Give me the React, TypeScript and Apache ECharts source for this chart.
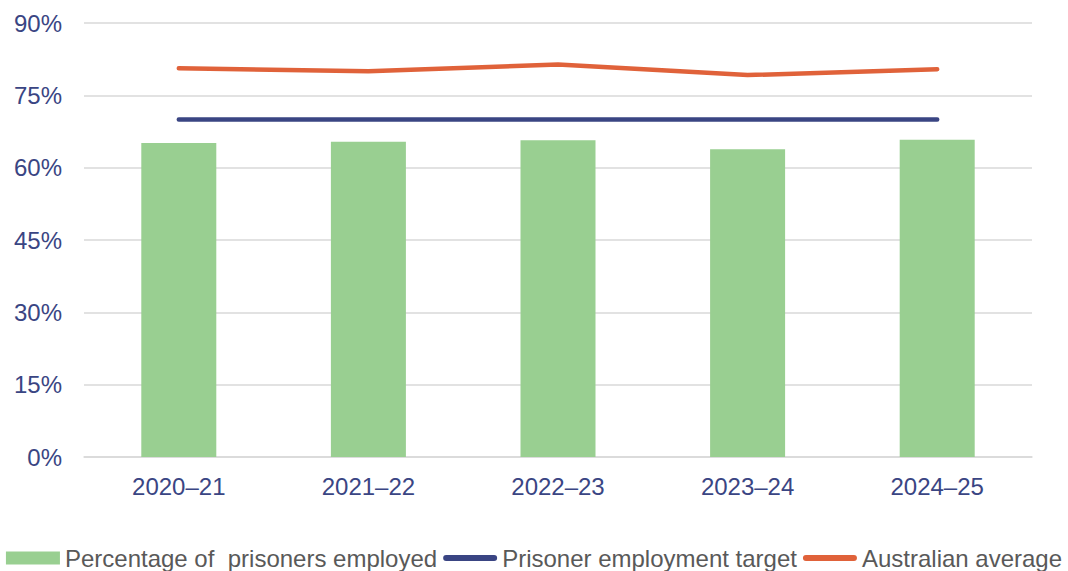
import React, { useEffect, useRef } from "react";
import * as echarts from "echarts";

const categories = ["2020–21", "2021–22", "2022–23", "2023–24", "2024–25"];
const employed = [65.1, 65.4, 65.7, 63.8, 65.8];
const target = [70, 70, 70, 70, 70];
const australianAverage = [80.6, 80.0, 81.4, 79.2, 80.4];

const lineIcon = "path://M3,0 L51,0 A3,3 0 0 1 51,6 L3,6 A3,3 0 0 1 3,0 Z";

export default function App() {
  const ref = useRef<HTMLDivElement>(null);
  useEffect(() => {
    if (!ref.current) return;
    const chart = echarts.init(ref.current, null, { renderer: "svg" });
    const font = "'Liberation Sans', Arial, sans-serif";
    chart.setOption({
      animation: false,
      grid: { left: 84, right: 36, top: 23, bottom: 114 },
      xAxis: {
        type: "category",
        data: categories,
        axisTick: { show: false },
        axisLine: { lineStyle: { color: "#d9d9d9", width: 1.5 } },
        axisLabel: { color: "#3a4583", fontSize: 24, fontFamily: font, margin: 17 },
      },
      yAxis: {
        type: "value",
        min: 0,
        max: 90,
        interval: 15,
        axisLabel: { formatter: "{value}%", color: "#3a4583", fontSize: 24, fontFamily: font, margin: 22 },
        splitLine: { lineStyle: { color: "#d9d9d9", width: 1.5 } },
        axisLine: { show: false },
        axisTick: { show: false },
      },
      legend: {
        top: 546,
        left: "center",
        itemWidth: 54,
        itemHeight: 13,
        itemGap: 6,
        padding: 0,
        textStyle: { color: "#595959", fontSize: 24, fontFamily: font },
        data: [
          { name: "Percentage of  prisoners employed", icon: "rect" },
          { name: "Prisoner employment target", icon: lineIcon },
          { name: "Australian average", icon: lineIcon },
        ],
      },
      series: [
        {
          name: "Percentage of  prisoners employed",
          type: "bar",
          data: employed,
          barWidth: 75,
          itemStyle: { color: "#99cf91" },
        },
        {
          name: "Prisoner employment target",
          type: "line",
          data: target,
          symbol: "none",
          lineStyle: { color: "#3a4583", width: 4.5, cap: "round" },
          itemStyle: { color: "#3a4583" },
        },
        {
          name: "Australian average",
          type: "line",
          data: australianAverage,
          symbol: "none",
          lineStyle: { color: "#e0623a", width: 4.5, cap: "round" },
          itemStyle: { color: "#e0623a" },
        },
      ],
    });
    return () => chart.dispose();
  }, []);
  return <div ref={ref} style={{ width: 1068, height: 571, position: "absolute", left: 0, top: 0 }} />;
}
